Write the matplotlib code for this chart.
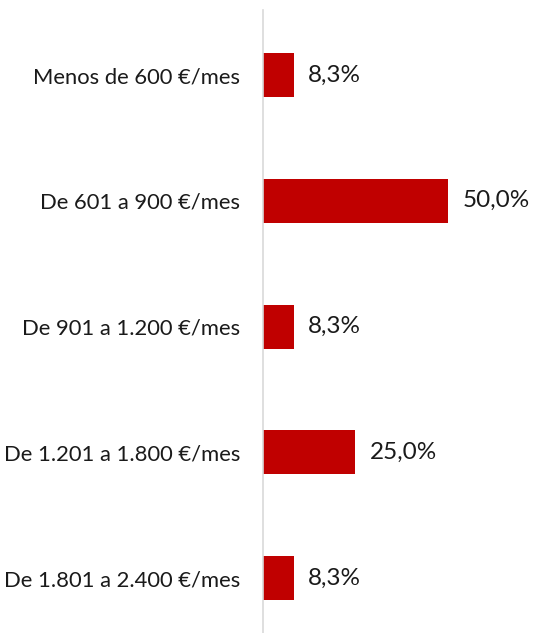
import matplotlib
matplotlib.use("Agg")
import matplotlib.pyplot as plt
from matplotlib.transforms import offset_copy

categories = [
    "Menos de 600 €/mes",
    "De 601 a 900 €/mes",
    "De 901 a 1.200 €/mes",
    "De 1.201 a 1.800 €/mes",
    "De 1.801 a 2.400 €/mes",
]
values = [8.3, 50.0, 8.3, 25.0, 8.3]
value_labels = ["8,3%", "50,0%", "8,3%", "25,0%", "8,3%"]

plt.rcParams["font.family"] = ["Lato", "DejaVu Sans"]

fig = plt.figure(figsize=(5.33, 6.33), dpi=100)
ax = fig.add_axes([263 / 533, 0, 270 / 533, 1 - 10 / 633])

pos = list(range(len(categories)))
ax.barh(pos, values, height=0.35, color="#C00000")
ax.set_ylim(4.437, -0.517)
ax.set_xlim(0, 73)

for sp in ["top", "right", "bottom"]:
    ax.spines[sp].set_visible(False)
ax.spines["left"].set_color("#D9D9D9")
ax.spines["left"].set_linewidth(1.2)
ax.set_xticks([])
ax.set_yticks(pos)
ax.set_yticklabels(categories, fontsize=15.8, color="#1a1a1a")
ax.tick_params(axis="y", length=0, pad=16.5)

for p, v, lab in zip(pos, values, value_labels):
    tr = offset_copy(ax.transData, fig=fig, x=10.5, y=0, units="points")
    ax.text(v, p, lab, transform=tr, va="center", ha="left", fontsize=17.5, color="#1a1a1a")

fig.savefig("out.png", dpi=100)
